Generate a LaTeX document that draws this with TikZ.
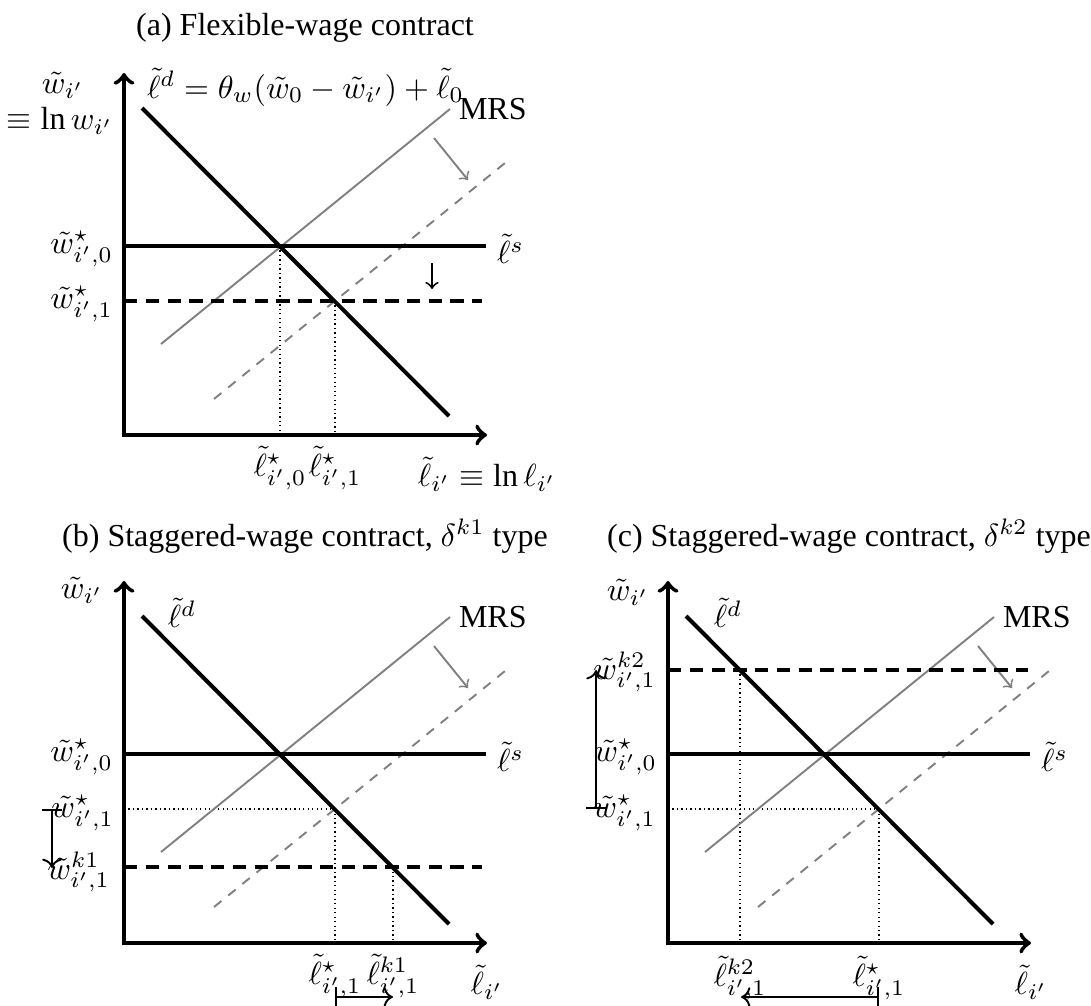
\documentclass[tikz,border=0pt]{standalone}
\usepackage{fontspec}
\setmainfont{Liberation Serif}
\usetikzlibrary{arrows.meta}
\tikzset{
  axisline/.style={line width=1.35pt,<->,>=to},
  demandline/.style={line width=1.25pt},
  supplyline/.style={line width=1.25pt},
  wagedash/.style={line width=1.25pt,dash pattern=on 4.2pt off 2.6pt},
  mrsline/.style={gray,line width=0.6pt},
  mrsdash/.style={gray,line width=0.6pt,dash pattern=on 3pt off 2.7pt},
  guide/.style={line width=0.4pt,dash pattern=on 0.4pt off 1pt},
  shiftarrow/.style={gray,line width=0.6pt,->,>=to},
  movearrow/.style={line width=0.6pt,->,>=to},
  brackarrow/.style={line width=0.6pt,{Bar[width=6pt]}-{To}},
  lab/.style={inner sep=0pt,outer sep=0pt},
}
\newcommand{\panelcore}{%
  \coordinate (O) at (124,435);
  \coordinate (Ytop) at (124,73);
  \coordinate (Xend) at (487,435);
  \coordinate (Ld1) at (142,108);
  \coordinate (Ld2) at (449,416);
  \coordinate (Ls1) at (124,246);
  \coordinate (Ls2) at (486,246);
  \coordinate (M1) at (161,344);
  \coordinate (M2) at (450,109);
  \coordinate (MD1) at (214,399);
  \coordinate (MD2) at (505,163);
  \coordinate (S1) at (434,138);
  \coordinate (S2) at (468,180);
}
\newcommand{\panellines}{%
  \draw[mrsline] (M1) -- (M2);
  \draw[mrsdash] (MD1) -- (MD2);
  \draw[shiftarrow] (S1) -- (S2);
  \draw[supplyline] (Ls1) -- (Ls2);
}
\newcommand{\panelfront}{%
  \draw[demandline] (Ld1) -- (Ld2);
  \draw[axisline] (Ytop) -- (O) -- (Xend);
  \node[lab,anchor=west] (mrslab) at (459,109) {MRS};
  \node[lab,anchor=west] (lslab) at (497,249) {$\tilde\ell^s$};
  \node[lab,anchor=east] (w0lab) at (113,249) {$\tilde w^\star_{i',0}$};
}
\begin{document}
\begin{tikzpicture}[x=0.3125pt,y=-0.3125pt]
\useasboundingbox (0,0) rectangle (1091,1005);

% ---------------- panel (a)
\begin{scope}[name prefix=a-]
  \panelcore
  \coordinate (E0) at (280,246);
  \coordinate (E0x) at (280,435);
  \coordinate (E1) at (335,301);
  \coordinate (E1x) at (335,435);
  \coordinate (W1a) at (124,301);
  \coordinate (W1b) at (482,301);
  \coordinate (D1) at (432,263);
  \coordinate (D2) at (432,289);
  \draw[guide] (E0) -- (E0x);
  \draw[guide] (E1) -- (E1x);
  \panellines
  \draw[wagedash] (W1a) -- (W1b);
  \draw[movearrow] (D1) -- (D2);
  \panelfront
  \node[lab,anchor=base] (title) at (305,35) {(a) Flexible-wage contract};
  \node[lab] (ylab) at (63,85) {$\tilde w_{i'}$};
  \node[lab] (ylab2) at (60,121) {$\equiv \ln w_{i'}$};
  \node[lab,anchor=base west] (ldlab) at (147,98) {$\tilde\ell^d=\theta_w(\tilde w_0-\tilde w_{i'})+\tilde\ell_0$};
  \node[lab,anchor=east] (w1lab) at (113,304) {$\tilde w^\star_{i',1}$};
  \node[lab] (x0lab) at (280,468) {$\tilde\ell^\star_{i',0}$};
  \node[lab] (x1lab) at (335,468) {$\tilde\ell^\star_{i',1}$};
  \node[lab] (xlab) at (487,474) {$\tilde\ell_{i'}\equiv\ln\ell_{i'}$};
\end{scope}

% ---------------- panel (b)
\begin{scope}[shift={(0,508)},name prefix=b-]
  \panelcore
  \coordinate (E1) at (335,301);
  \coordinate (E1y) at (124,301);
  \coordinate (E1x) at (335,435);
  \coordinate (K) at (393,359);
  \coordinate (Kx) at (393,435);
  \coordinate (Ka) at (124,359);
  \coordinate (Kb) at (482,359);
  \coordinate (B1) at (52,301);
  \coordinate (B2) at (52,360);
  \coordinate (H1) at (335,489);
  \coordinate (H2) at (393,489);
  \draw[guide] (E1y) -- (E1);
  \draw[guide] (E1) -- (E1x);
  \draw[guide] (K) -- (Kx);
  \panellines
  \draw[wagedash] (Ka) -- (Kb);
  \panelfront
  \node[lab,anchor=base] (title) at (305,38) {(b) Staggered-wage contract, $\delta^{k1}$ type};
  \node[lab] (ylab) at (82,82) {$\tilde w_{i'}$};
  \node[lab] (ldlab) at (182,105) {$\tilde\ell^d$};
  \node[lab,anchor=east] (w1lab) at (114,305) {$\tilde w^\star_{i',1}$};
  \node[lab,anchor=east] (wklab) at (110,364) {$\tilde w^{k1}_{i',1}$};
  \node[lab] (x1lab) at (335,468) {$\tilde\ell^\star_{i',1}$};
  \node[lab] (xklab) at (393,468) {$\tilde\ell^{k1}_{i',1}$};
  \node[lab] (xlab) at (487,474) {$\tilde\ell_{i'}$};
  \draw[brackarrow] (B1) -- (B2);
  \draw[brackarrow] (H1) -- (H2);
\end{scope}

% ---------------- panel (c)
\begin{scope}[shift={(544,508)},name prefix=c-]
  \panelcore
  \coordinate (E1) at (335,301);
  \coordinate (E1y) at (124,301);
  \coordinate (E1x) at (335,435);
  \coordinate (K) at (196,162);
  \coordinate (Kx) at (196,435);
  \coordinate (Ka) at (124,162);
  \coordinate (Kb) at (484,162);
  \coordinate (B1) at (52,301);
  \coordinate (B2) at (52,162);
  \coordinate (H1) at (335,489);
  \coordinate (H2) at (197,489);
  \draw[guide] (E1y) -- (E1);
  \draw[guide] (E1) -- (E1x);
  \draw[guide] (K) -- (Kx);
  \panellines
  \draw[wagedash] (Ka) -- (Kb);
  \panelfront
  \node[lab,anchor=base] (title) at (305,38) {(c) Staggered-wage contract, $\delta^{k2}$ type};
  \node[lab] (ylab) at (84,84) {$\tilde w_{i'}$};
  \node[lab] (ldlab) at (184,105) {$\tilde\ell^d$};
  \node[lab,anchor=east] (wklab) at (112,164) {$\tilde w^{k2}_{i',1}$};
  \node[lab,anchor=east] (w1lab) at (112,305) {$\tilde w^\star_{i',1}$};
  \node[lab] (xklab) at (196,470) {$\tilde\ell^{k2}_{i',1}$};
  \node[lab] (x1lab) at (335,470) {$\tilde\ell^\star_{i',1}$};
  \node[lab] (xlab) at (487,474) {$\tilde\ell_{i'}$};
  \draw[brackarrow] (B1) -- (B2);
  \draw[brackarrow] (H1) -- (H2);
\end{scope}
\end{tikzpicture}
\end{document}
